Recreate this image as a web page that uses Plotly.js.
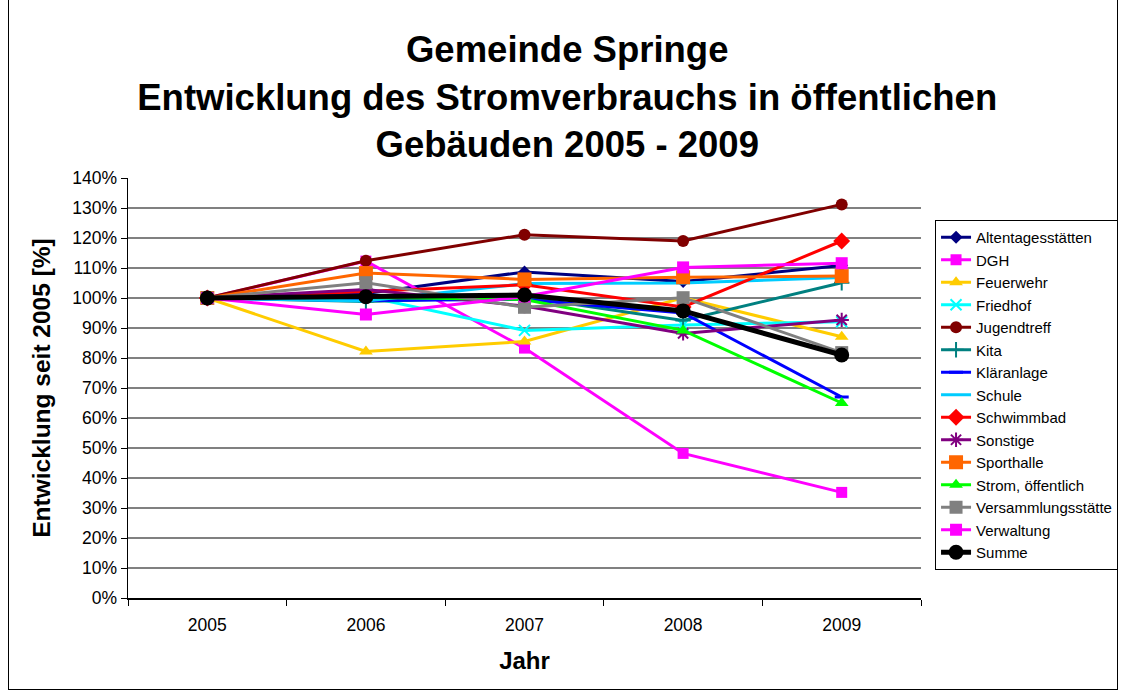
<!DOCTYPE html>
<html>
<head>
<meta charset="utf-8">
<script src="https://cdn.plot.ly/plotly-3.0.1.min.js"></script>
<style>
html,body{margin:0;padding:0;background:#fff;}
#frame{position:absolute;left:8px;top:0px;width:1110px;height:690px;border:1px solid #000;border-top:none;box-sizing:border-box;pointer-events:none;}
#chart{width:1121px;height:693px;}
</style>
</head>
<body>
<div id="chart"></div>
<div id="frame"></div>
<script>
const years = ['2005', '2006', '2007', '2008', '2009'];

const altentagesstaetten = [100, 101.5, 108.7, 105.5, 110.8];
const dgh = [100, 112.3, 83.3, 48.2, 35.2];
const feuerwehr = [100, 82.2, 85.5, 100.1, 87.1];
const friedhof = [100, 100.5, 89.2, 91.0, 92.1];
const jugendtreff = [100, 112.4, 121.1, 119.0, 131.2];
const kita = [100, 98.8, 100.3, 92.5, 105.1];
const klaeranlage = [100, 99.2, 99.5, 95.0, 67.0];
const schule = [100, 99.0, 104.8, 105.0, 106.8];
const schwimmbad = [100, 102.2, 104.4, 97.0, 119.0];
const sonstige = [100, 102.8, 97.3, 88.2, 92.7];
const sporthalle = [100, 108.3, 106.2, 106.9, 107.3];
const strom = [100, 100.2, 99.5, 89.2, 65.0];
const versammlungsstaette = [100, 105.1, 96.9, 100.1, 81.8];
const verwaltung = [100, 94.5, 100.5, 110.2, 111.6];
const summe = [100, 100.4, 101.0, 95.7, 81.0];

const seriesNames = ['Altentagesstätten','DGH','Feuerwehr','Friedhof','Jugendtreff','Kita','Kläranlage','Schule','Schwimmbad','Sonstige','Sporthalle','Strom, öffentlich','Versammlungsstätte','Verwaltung','Summe'];
const seriesValues = [altentagesstaetten,dgh,feuerwehr,friedhof,jugendtreff,kita,klaeranlage,schule,schwimmbad,sonstige,sporthalle,strom,versammlungsstaette,verwaltung,summe];

const styles = [
  {c:'#000080', s:'diamond', z:10},
  {c:'#FF00FF', s:'square', z:11},
  {c:'#FFCC00', s:'triangle-up', z:12},
  {c:'#00FFFF', s:'x-thin-open', z:11, ml:2},
  {c:'#800000', s:'circle', z:12},
  {c:'#008080', s:'cross-thin-open', z:11, ml:2},
  {c:'#0000FF', s:'line-ew-open', z:10, ml:3},
  {c:'#00CCFF', s:null},
  {c:'#FF0000', s:'diamond', z:13},
  {c:'#800080', s:'asterisk-open', z:12, ml:2},
  {c:'#FF6600', s:'square', z:14},
  {c:'#00FF00', s:'triangle-up', z:12},
  {c:'#808080', s:'square', z:13},
  {c:'#FF00FF', s:'square', z:12},
  {c:'#000000', s:'circle', z:15, w:5}
];

const traces = seriesNames.map((name, i) => {
  const st = styles[i];
  const t = {
    type: 'scatter',
    x: years,
    y: seriesValues[i],
    name: name,
    mode: st.s ? 'lines+markers' : 'lines',
    line: {color: st.c, width: st.w || 3},
    hoverinfo: 'name+y'
  };
  if (st.s) {
    t.marker = {symbol: st.s, size: st.z, color: st.c, line: {color: st.c, width: st.ml || 0}};
  }
  return t;
});

const font = 'Liberation Sans, Arial, sans-serif';

const layout = {
  width: 1121,
  height: 693,
  paper_bgcolor: '#fff',
  plot_bgcolor: '#fff',
  margin: {l: 128, r: 200, t: 178, b: 95, autoexpand: false},
  font: {family: font, color: '#000'},
  title: {
    text: '<b>Gemeinde Springe<br>Entwicklung des Stromverbrauchs in öffentlichen<br>Gebäuden 2005 - 2009</b>',
    font: {family: font, size: 36.5, color: '#000'},
    x: 0.506, xref: 'container', xanchor: 'center',
    y: 0.91, yref: 'container', yanchor: 'top'
  },
  xaxis: {
    type: 'category',
    range: [-0.5, 4.5],
    tickson: 'boundaries',
    ticks: 'outside',
    ticklen: 6,
    tickcolor: '#000',
    ticklabelstandoff: 10,
    showline: true,
    linecolor: '#000',
    linewidth: 1.5,
    showgrid: false,
    tickfont: {family: font, size: 17.5, color: '#000'},
    title: {text: '<b>Jahr</b>', font: {family: font, size: 24, color: '#000'}, standoff: 18},
    fixedrange: true
  },
  yaxis: {
    range: [0, 140],
    dtick: 10,
    tick0: 0,
    ticksuffix: '%',
    ticks: 'outside',
    ticklen: 6,
    tickcolor: '#000',
    showline: true,
    linecolor: '#000',
    linewidth: 1.5,
    showgrid: true,
    gridcolor: '#808080',
    gridwidth: 1.5,
    zeroline: false,
    tickfont: {family: font, size: 17.5, color: '#000'},
    title: {text: '<b>Entwicklung seit 2005 [%]</b>', font: {family: font, size: 24.5, color: '#000'}, standoff: 14},
    fixedrange: true
  },
  legend: {
    x: 1.0177, xanchor: 'left',
    y: 0.9, yanchor: 'top',
    bordercolor: '#000',
    borderwidth: 1,
    bgcolor: '#fff',
    font: {family: font, size: 15, color: '#000'},
    tracegroupgap: 0,
    itemwidth: 30
  },
  showlegend: true
};

Plotly.newPlot('chart', traces, layout, {displayModeBar: false, staticPlot: true});
</script>
</body>
</html>
